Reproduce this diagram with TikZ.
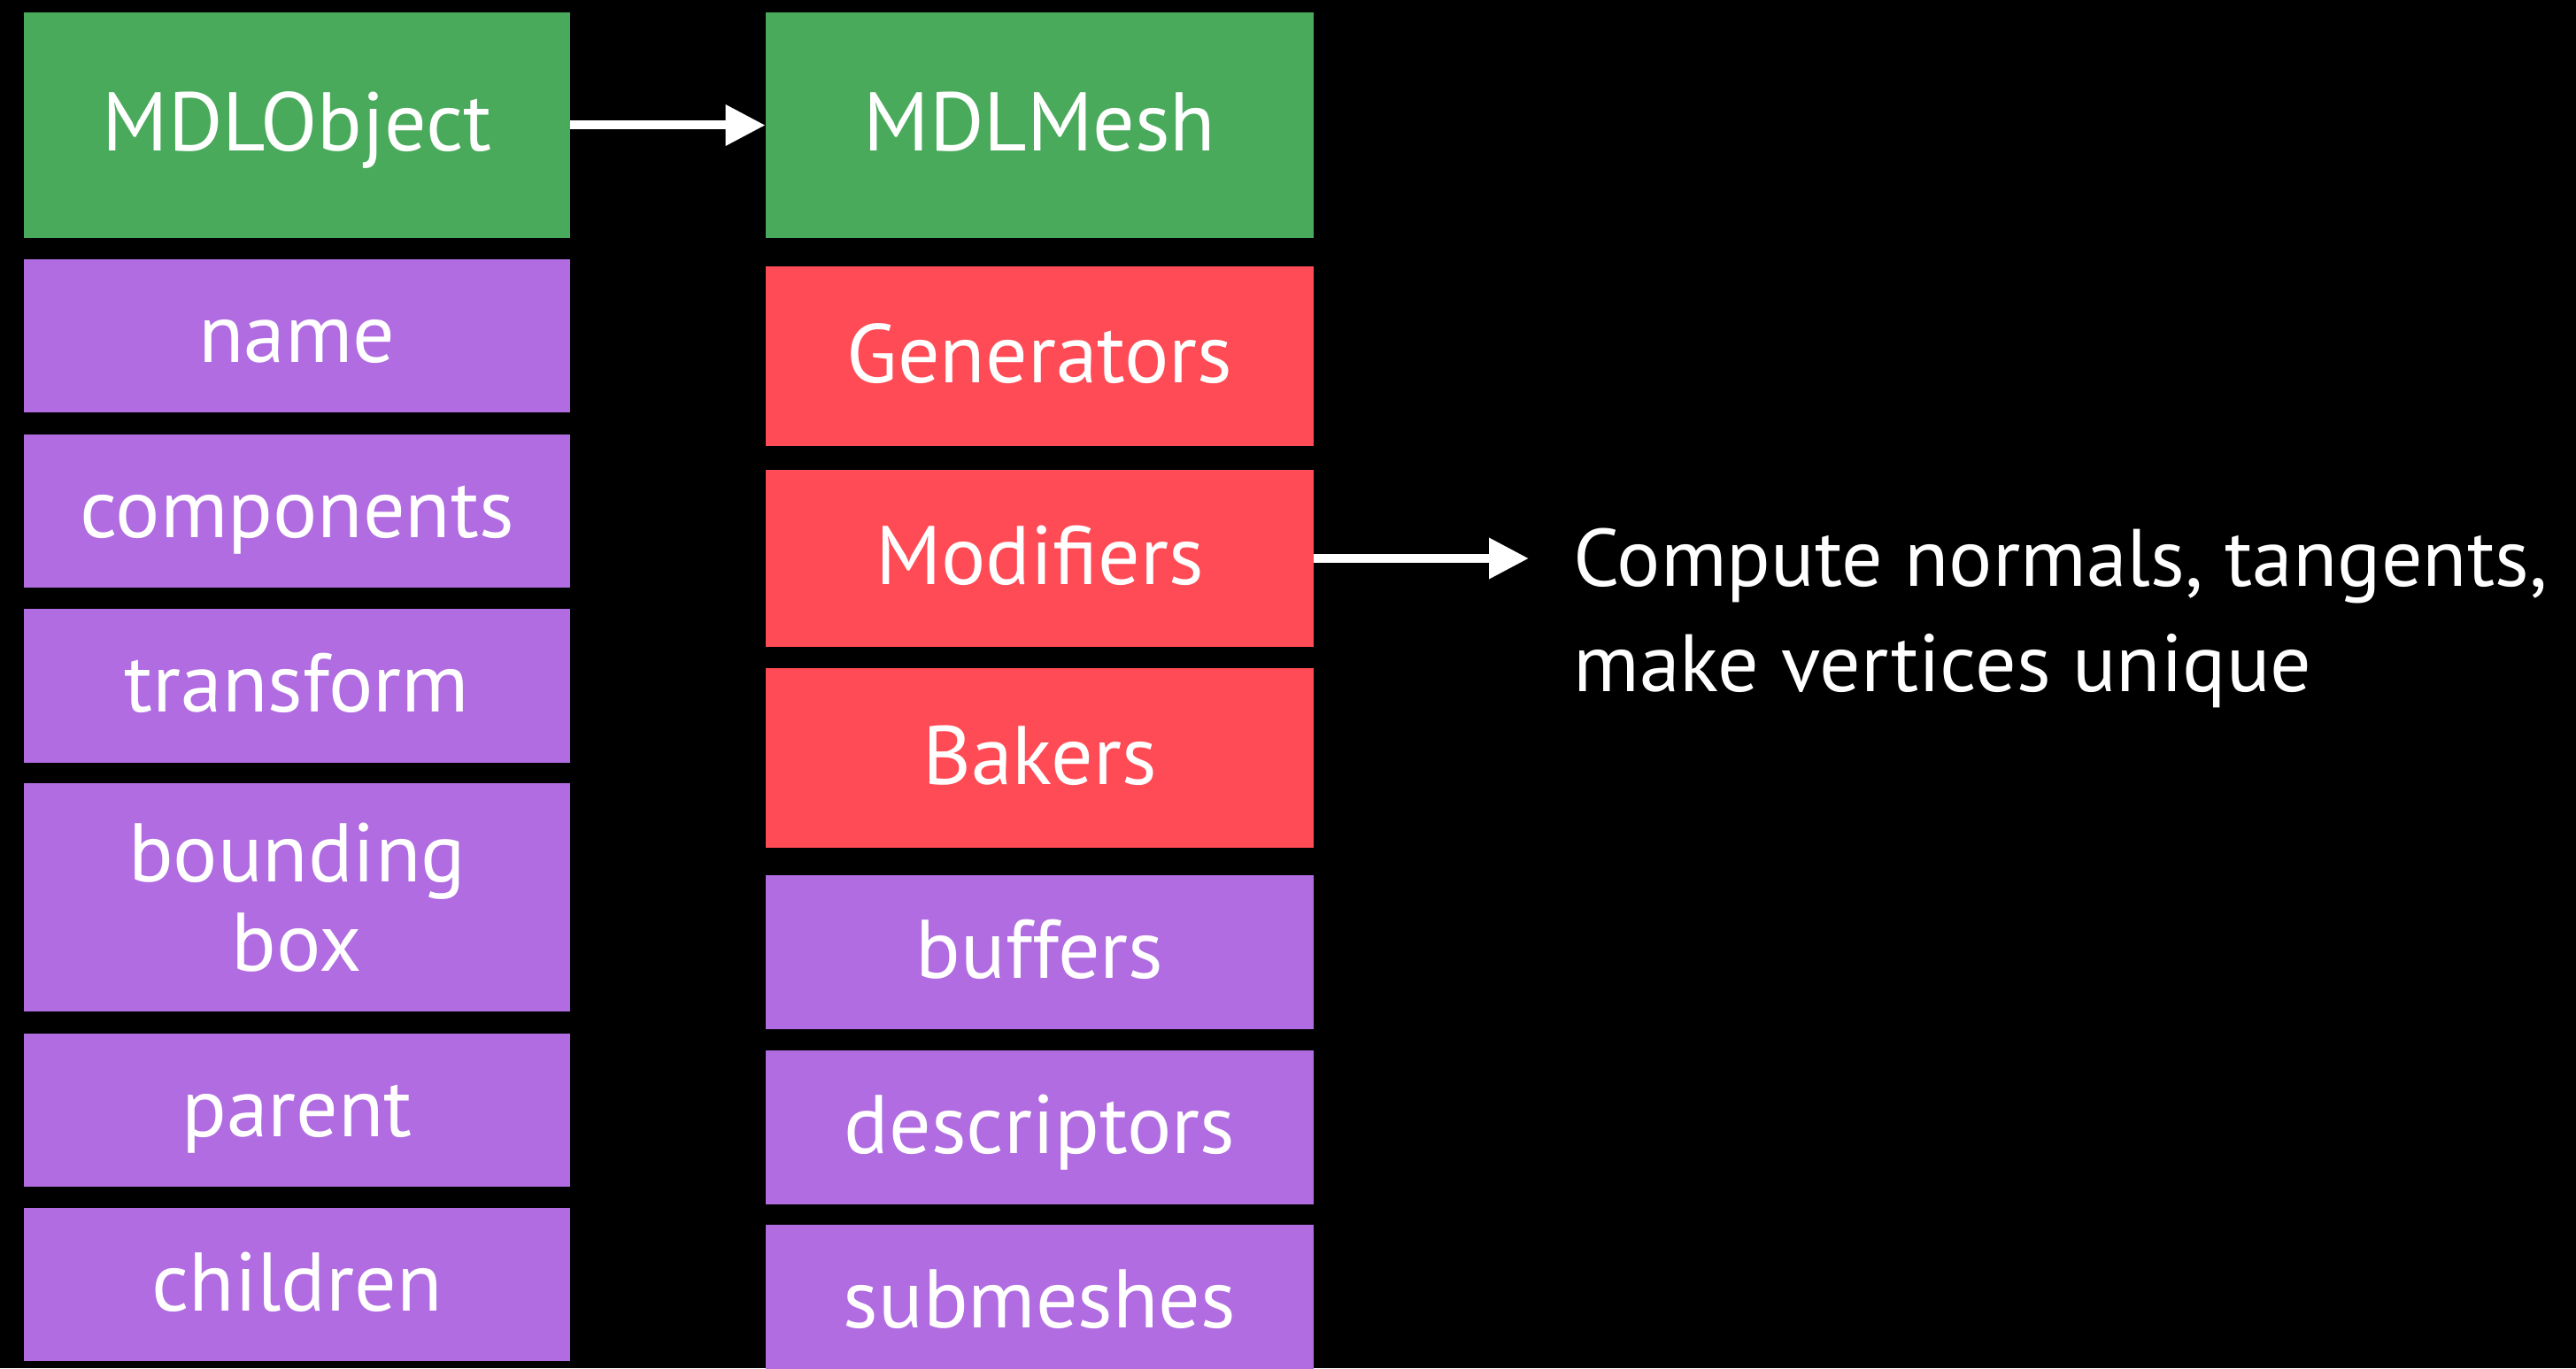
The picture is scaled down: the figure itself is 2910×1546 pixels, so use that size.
\documentclass[tikz,border=0pt]{standalone}
\usepackage{fontspec}
\setmainfont{PT Sans}
\usetikzlibrary{arrows.meta}
\definecolor{objgreen}{RGB}{74,170,91}
\definecolor{proppurple}{RGB}{176,108,224}
\definecolor{opred}{RGB}{255,75,85}
\begin{document}
\begin{tikzpicture}[x=0.5pt,y=-0.5pt,
  cell/.style={fill=#1, inner sep=0pt, text=white,
    font=\fontsize{47}{50.5}\selectfont},
  onel/.style={text height=36pt, text depth=6.5pt},
  lcol/.style={minimum width=308.5pt},
  rcol/.style={minimum width=309.5pt},
  conn/.style={draw=white, line width=5pt,
    -{Triangle[length=22.5pt,width=22pt]}}]
% background and page size
\fill[black] (0,0) rectangle (2910,1546);
\useasboundingbox (0,0) rectangle (2910,1546);

% MDLObject column
\node[cell=objgreen, lcol, onel, minimum height=127.5pt] (obj) at (335.5,141.5) {MDLObject};
\node[cell=proppurple, lcol, onel, minimum height=86.5pt] (name) at (335.5,379.5) {name};
\node[cell=proppurple, lcol, onel, minimum height=86.5pt] (comp) at (335.5,577.5) {components};
\node[cell=proppurple, lcol, onel, minimum height=87pt] (xform) at (335.5,775) {transform};
\node[cell=proppurple, lcol, align=center, minimum height=129pt] (bbox) at (335.5,1014) {bounding\\box};
\node[cell=proppurple, lcol, onel, minimum height=86.5pt] (parent) at (335.5,1254.5) {parent};
\node[cell=proppurple, lcol, onel, minimum height=86.5pt] (child) at (335.5,1451.5) {children};

% MDLMesh column
\node[cell=objgreen, rcol, onel, minimum height=127.5pt] (mesh) at (1174.5,141.5) {MDLMesh};
\node[cell=opred, rcol, onel, minimum height=101.5pt] (gen) at (1174.5,402.5) {Generators};
\node[cell=opred, rcol, onel, minimum height=100pt] (mod) at (1174.5,631) {Modifiers};
\node[cell=opred, rcol, onel, minimum height=101.5pt] (bake) at (1174.5,856.5) {Bakers};
\node[cell=proppurple, rcol, onel, minimum height=87pt] (buf) at (1174.5,1076) {buffers};
\node[cell=proppurple, rcol, onel, minimum height=87pt] (desc) at (1174.5,1274) {descriptors};
\node[cell=proppurple, rcol, onel, minimum height=87pt] (sub) at (1174.5,1471) {submeshes};

% note on the modifiers (anchored on the baseline of its last line)
\node[anchor=base west, inner sep=0pt, text=white, align=left,
  font=\fontsize{46}{59.5}\selectfont] (note) at (1777,781)
  {Compute normals, tangents,\\make vertices unique};
\coordinate (modtip) at (1727,631);

% connectors
\draw[conn] (obj.east) -- (mesh.west);
\draw[conn] (mod.east) -- (modtip);
\end{tikzpicture}
\end{document}
